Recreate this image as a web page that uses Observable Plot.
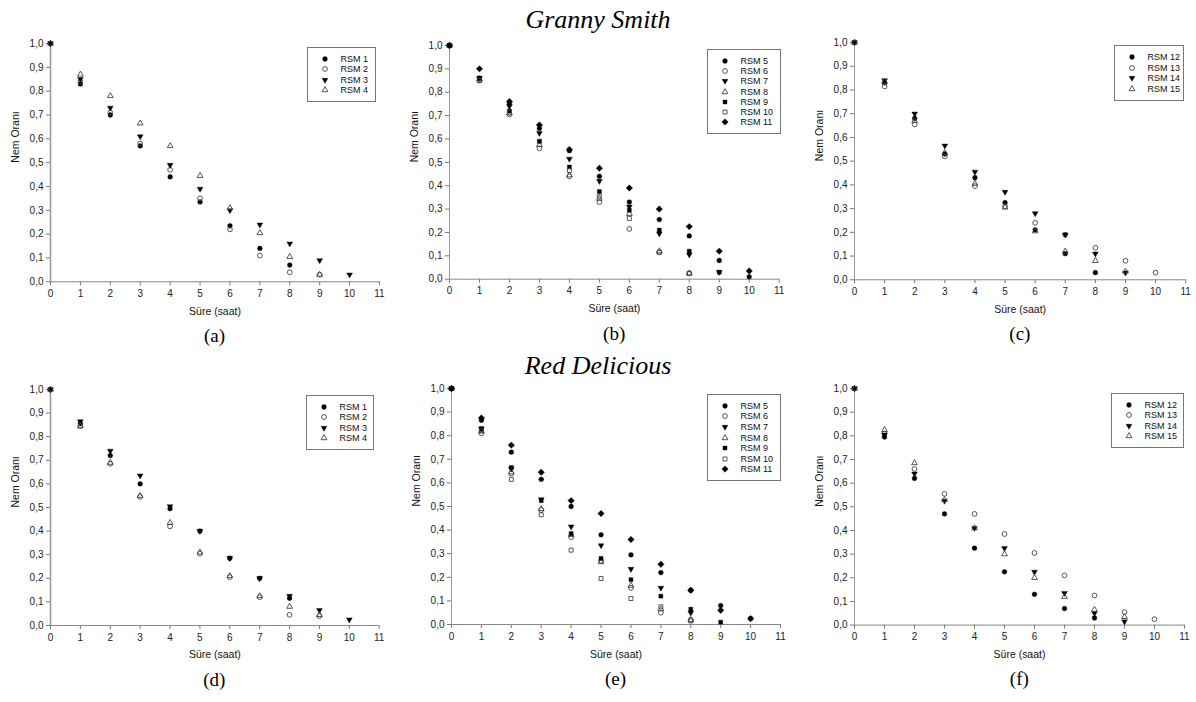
<!DOCTYPE html>
<html><head><meta charset="utf-8">
<script src="https://cdn.jsdelivr.net/npm/d3@7"></script>
<script src="https://cdn.jsdelivr.net/npm/@observablehq/plot@0.6"></script>
<style>
body{margin:0;background:#fff;width:1196px;height:702px;position:relative;overflow:hidden;font-family:"Liberation Sans",Arial,sans-serif;}
.abs{position:absolute;}
.title{font-family:"Liberation Serif","Times New Roman",serif;font-style:italic;font-size:26px;color:#000;transform:translate(-50%,-50%);white-space:nowrap;}
.cap{font-family:"Liberation Serif","Times New Roman",serif;font-size:19px;color:#000;transform:translate(-50%,-50%);white-space:nowrap;}
.legend{border:1px solid #777;background:#fff;box-sizing:border-box;}
.lrow{position:absolute;left:0;height:10px;width:100%;font-size:9px;color:#111;}
.lrow svg{position:absolute;top:0;}
.lrow span{position:absolute;top:0;line-height:10px;white-space:nowrap;}
</style></head><body>
<script>
// ---------- data ----------
const hours = [0, 1, 2, 3, 4, 5, 6, 7, 8, 9, 10];
const xTicks = [0, 1, 2, 3, 4, 5, 6, 7, 8, 9, 10, 11];
const yTicks = [0, 0.1, 0.2, 0.3, 0.4, 0.5, 0.6, 0.7, 0.8, 0.9, 1.0];
const groupTitles = ["Granny Smith", "Red Delicious"];
const panelLabels = ["(a)", "(b)", "(c)", "(d)", "(e)", "(f)"];
const xLabel = "Süre (saat)";
const yLabel = "Nem Oranı";

// Granny Smith
const gsRSM1 = [1.00, 0.83, 0.70, 0.57, 0.44, 0.335, 0.235, 0.14, 0.07];
const gsRSM2 = [1.00, 0.84, 0.71, 0.58, 0.47, 0.35, 0.22, 0.11, 0.04, 0.03];
const gsRSM3 = [1.00, 0.85, 0.73, 0.61, 0.49, 0.39, 0.30, 0.24, 0.16, 0.09, 0.03];
const gsRSM4 = [1.00, 0.87, 0.78, 0.665, 0.57, 0.445, 0.31, 0.205, 0.105, 0.03];

const gsRSM5 = [1.00, 0.86, 0.75, 0.645, 0.55, 0.44, 0.33, 0.255, 0.185, 0.08, 0.01];
const gsRSM6 = [1.00, 0.85, 0.705, 0.56, 0.44, 0.33, 0.215, 0.115, 0.025];
const gsRSM7 = [1.00, 0.86, 0.74, 0.625, 0.515, 0.42, 0.31, 0.195, 0.105, 0.03];
const gsRSM8 = [1.00, 0.855, 0.71, 0.575, 0.445, 0.345, 0.28, 0.12, 0.025];
const gsRSM9 = [1.00, 0.86, 0.72, 0.59, 0.48, 0.375, 0.295, 0.21, 0.12, 0.03];
const gsRSM10 = [1.00, 0.85, 0.715, 0.59, 0.465, 0.355, 0.26, 0.115, 0.025];
const gsRSM11 = [1.00, 0.90, 0.76, 0.66, 0.555, 0.475, 0.39, 0.30, 0.225, 0.12, 0.035];

const gsRSM12 = [1.00, 0.83, 0.68, 0.53, 0.43, 0.325, 0.21, 0.11, 0.03];
const gsRSM13 = [1.00, 0.815, 0.655, 0.52, 0.395, 0.31, 0.24, 0.19, 0.135, 0.08, 0.03];
const gsRSM14 = [1.00, 0.84, 0.70, 0.565, 0.455, 0.37, 0.28, 0.19, 0.11, 0.03];
const gsRSM15 = [1.00, 0.835, 0.67, 0.535, 0.405, 0.305, 0.205, 0.12, 0.08, 0.035];

// Red Delicious
const rdRSM1 = [1.00, 0.855, 0.72, 0.60, 0.495, 0.40, 0.285, 0.20, 0.115];
const rdRSM2 = [1.00, 0.845, 0.685, 0.545, 0.42, 0.305, 0.205, 0.12, 0.045, 0.04];
const rdRSM3 = [1.00, 0.865, 0.74, 0.635, 0.505, 0.40, 0.285, 0.20, 0.125, 0.065, 0.025];
const rdRSM4 = [1.00, 0.845, 0.69, 0.55, 0.435, 0.31, 0.21, 0.125, 0.08, 0.045];

const rdRSM5 = [1.00, 0.865, 0.73, 0.615, 0.50, 0.38, 0.295, 0.22, 0.145, 0.08, 0.025];
const rdRSM6 = [1.00, 0.81, 0.64, 0.485, 0.37, 0.27, 0.155, 0.05, 0.02];
const rdRSM7 = [1.00, 0.83, 0.66, 0.53, 0.415, 0.335, 0.235, 0.155, 0.05];
const rdRSM8 = [1.00, 0.82, 0.645, 0.49, 0.38, 0.265, 0.165, 0.065, 0.02];
const rdRSM9 = [1.00, 0.83, 0.665, 0.525, 0.385, 0.28, 0.19, 0.12, 0.065, 0.01];
const rdRSM10 = [1.00, 0.82, 0.615, 0.465, 0.315, 0.195, 0.11, 0.075, 0.015];
const rdRSM11 = [1.00, 0.875, 0.76, 0.645, 0.525, 0.47, 0.36, 0.255, 0.145, 0.06, 0.025];

const rdRSM12 = [1.00, 0.795, 0.62, 0.47, 0.325, 0.225, 0.13, 0.07, 0.03];
const rdRSM13 = [1.00, 0.81, 0.66, 0.555, 0.47, 0.385, 0.305, 0.21, 0.125, 0.055, 0.025];
const rdRSM14 = [1.00, 0.805, 0.64, 0.525, 0.41, 0.325, 0.225, 0.135, 0.05, 0.015];
const rdRSM15 = [1.00, 0.825, 0.685, 0.53, 0.41, 0.30, 0.20, 0.12, 0.065, 0.035];

const namesA = ["RSM 1", "RSM 2", "RSM 3", "RSM 4"];
const namesB = ["RSM 5", "RSM 6", "RSM 7", "RSM 8", "RSM 9", "RSM 10", "RSM 11"];
const namesC = ["RSM 12", "RSM 13", "RSM 14", "RSM 15"];

// ---------- symbols ----------
const sqrt3 = Math.sqrt(3);
const triDown = {draw(ctx, size) {
  const y = -Math.sqrt(size / (sqrt3 * 3));
  ctx.moveTo(0, -y * 2); ctx.lineTo(sqrt3 * y, y); ctx.lineTo(-sqrt3 * y, y); ctx.closePath();
}};
const diamondSym = {draw(ctx, size) {
  const r = Math.sqrt(size / 2) * 1.05;
  ctx.moveTo(0, -r); ctx.lineTo(r, 0); ctx.lineTo(0, r); ctx.lineTo(-r, 0); ctx.closePath();
}};
const symStyles = [
  {symbol: d3.symbolCircle, filled: true, r: 2.4},
  {symbol: d3.symbolCircle, filled: false, r: 2.4},
  {symbol: triDown, filled: true, r: 2.15},
  {symbol: d3.symbolTriangle, filled: false, r: 2.15},
  {symbol: d3.symbolSquare, filled: true, r: 2.25},
  {symbol: d3.symbolSquare, filled: false, r: 2.25},
  {symbol: diamondSym, filled: true, r: 2.45}
];
function styleOf(s) {
  return s.filled ? {fill: "#000", stroke: "#000", strokeWidth: 0.4} : {fill: "none", stroke: "#444", strokeWidth: 0.9};
}

// ---------- layout ----------
const panels = [
  {names: namesA, values: [gsRSM1, gsRSM2, gsRSM3, gsRSM4], frame: {l: 50, r: 379, t: 42.7, b: 281}, legend: {l: 307, t: 47, w: 69, h: 55}},
  {names: namesB, values: [gsRSM5, gsRSM6, gsRSM7, gsRSM8, gsRSM9, gsRSM10, gsRSM11], frame: {l: 449.3, r: 779, t: 45.3, b: 279}, legend: {l: 707, t: 49, w: 74, h: 85}},
  {names: namesC, values: [gsRSM12, gsRSM13, gsRSM14, gsRSM15], frame: {l: 854.3, r: 1185.5, t: 42, b: 279.3}, legend: {l: 1114, t: 45, w: 70, h: 56}},
  {names: namesA, values: [rdRSM1, rdRSM2, rdRSM3, rdRSM4], frame: {l: 50, r: 378.7, t: 389, b: 625}, legend: {l: 306, t: 395, w: 68, h: 55}},
  {names: namesB, values: [rdRSM5, rdRSM6, rdRSM7, rdRSM8, rdRSM9, rdRSM10, rdRSM11], frame: {l: 451, r: 780, t: 388.3, b: 624.3}, legend: {l: 707, t: 394, w: 74, h: 87}},
  {names: namesC, values: [rdRSM12, rdRSM13, rdRSM14, rdRSM15], frame: {l: 854.3, r: 1184.3, t: 387.7, b: 624.3}, legend: {l: 1111, t: 393, w: 73, h: 55}}
];

const fmt = d => d3.format(".1f")(d).replace(".", ",");
const mL = 50, mR = 10, mT = 14, mB = 42;

function addDiv(cls, x, y, text) {
  const d = document.createElement("div");
  d.className = "abs " + cls;
  d.style.left = x + "px"; d.style.top = y + "px";
  d.textContent = text;
  document.body.appendChild(d);
  return d;
}

addDiv("title", 598, 20, groupTitles[0]);
addDiv("title", 598, 366, groupTitles[1]);

panels.forEach((p, pi) => {
  const f = p.frame;
  const marks = [];
  marks.push(Plot.axisX({ticks: xTicks, tickSize: 4, tickPadding: 4, label: null, stroke: "#777", fill: "#222", fontSize: 10}));
  marks.push(Plot.axisY({ticks: yTicks, tickFormat: fmt, tickSize: 4, tickPadding: 3, label: null, stroke: "#777", fill: "#222", fontSize: 10}));
  marks.push(Plot.ruleY([0], {stroke: "#888", strokeWidth: 1}));
  marks.push(Plot.ruleX([0], {stroke: "#999", strokeWidth: (pi % 3 === 0) ? 1.6 : 1}));
  p.values.forEach((vals, si) => {
    const s = symStyles[si];
    const rows = vals.map((v, i) => ({x: hours[i], y: v}));
    marks.push(Plot.dot(rows, {x: "x", y: "y", symbol: s.symbol, r: s.r, ...styleOf(s)}));
  });
  marks.push(Plot.text([xLabel], {frameAnchor: "bottom", dy: 33, fontSize: 10.5, fill: "#111"}));
  marks.push(Plot.text([yLabel], {frameAnchor: "left", dx: -35, rotate: -90, fontSize: 10.5, fill: "#111"}));

  const width = (f.r - f.l) + mL + mR;
  const height = (f.b - f.t) + mT + mB;
  const chart = Plot.plot({
    width, height,
    marginLeft: mL, marginRight: mR, marginTop: mT, marginBottom: mB,
    x: {domain: [0, 11], axis: null},
    y: {domain: [0, 1], axis: null},
    style: {fontFamily: "Liberation Sans, Arial, sans-serif", fontSize: "10px", color: "#222", background: "transparent", overflow: "visible"},
    marks
  });
  chart.style.position = "absolute";
  chart.style.left = (f.l - mL) + "px";
  chart.style.top = (f.t - mT) + "px";
  document.body.appendChild(chart);

  // caption
  addDiv("cap", (f.l + f.r) / 2, f.b + 55, panelLabels[pi]);

  // legend
  const L = p.legend;
  const box = document.createElement("div");
  box.className = "abs legend";
  Object.assign(box.style, {left: L.l + "px", top: L.t + "px", width: L.w + "px", height: L.h + "px"});
  const n = p.names.length;
  const pad = 6.5;
  const step = (L.h - 2 * pad) / n;
  p.names.forEach((name, si) => {
    const s = symStyles[si];
    const row = document.createElement("div");
    row.className = "lrow";
    row.style.top = (pad + step * si + step / 2 - 5 - 1) + "px";
    const svg = d3.create("svg").attr("width", 10).attr("height", 10).style("left", (17.5 - 5 - 1) + "px");
    const st = styleOf(s);
    svg.append("path")
      .attr("transform", "translate(5,5)")
      .attr("d", d3.symbol(s.symbol, s.r * s.r * Math.PI)())
      .attr("fill", st.fill).attr("stroke", st.stroke).attr("stroke-width", st.strokeWidth);
    row.appendChild(svg.node());
    const sp = document.createElement("span");
    sp.style.left = (33.5 - 1) + "px";
    sp.textContent = name;
    row.appendChild(sp);
    box.appendChild(row);
  });
  document.body.appendChild(box);
});
</script>
</body></html>
